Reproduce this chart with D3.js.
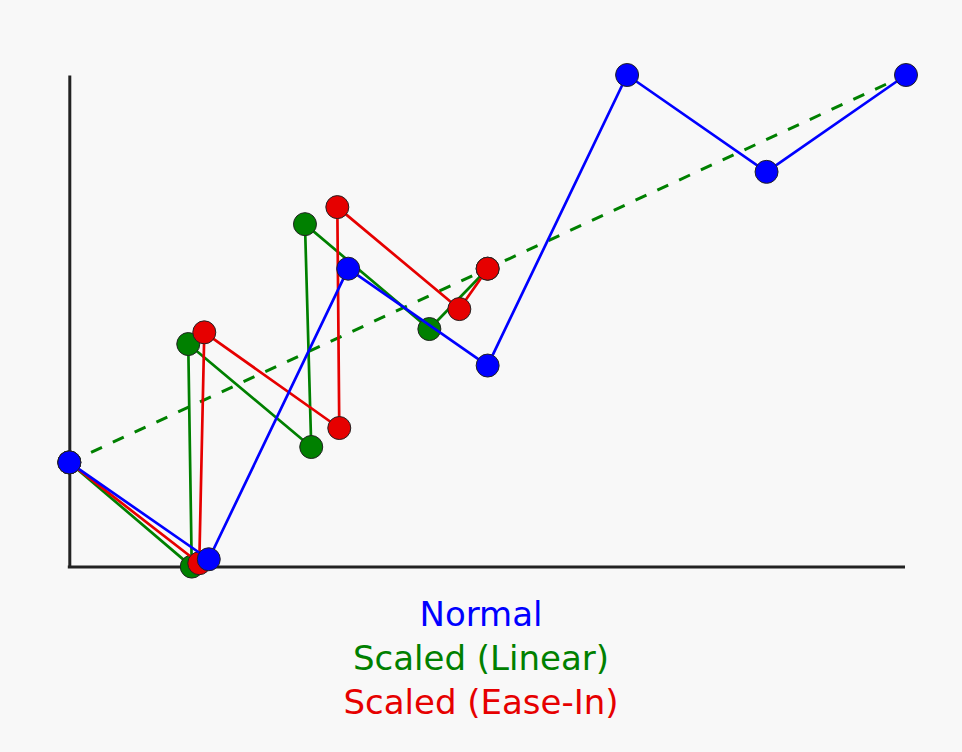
<!DOCTYPE html>
<html>
<head>
<meta charset="utf-8">
<script src="https://cdn.jsdelivr.net/npm/d3@7"></script>
<style>
  html, body { margin: 0; padding: 0; background: #f8f8f8; }
  svg { display: block; }
</style>
</head>
<body>
<svg id="chart" width="962" height="752"></svg>
<script>
// Data
const normalX = [0, 1, 2, 3, 4, 5, 6];
const normalY = [2, 1, 4, 3, 6, 5, 6];
const linearX = [0, 0.878, 0.853, 1.735, 1.690, 2.582, 3.0];
const linearY = [2, 0.924, 3.222, 2.159, 4.460, 3.377, 4.0];
const easeX = [0, 0.932, 0.968, 1.936, 1.922, 2.797, 3.0];
const easeY = [2, 0.959, 3.343, 2.355, 4.636, 3.583, 4.0];
const trendX = [0, 6];
const trendY = [2, 6];
const legendLabels = ["Normal", "Scaled (Linear)", "Scaled (Ease-In)"];
const colors = { normal: "#0000ff", linear: "#008000", ease: "#e60000" };

const svg = d3.select("#chart");
svg.append("rect").attr("width", 962).attr("height", 752).attr("fill", "#f8f8f8");

const x = d3.scaleLinear().domain([0, 6]).range([69.3, 906]);
const y = d3.scaleLinear().domain([0.92, 6]).range([567, 75]);

// axes (domain lines only)
const xAxis = d3.axisBottom(x).ticks(0).tickSizeOuter(0);
const yAxis = d3.axisLeft(y).ticks(0).tickSizeOuter(0);
const xg = svg.append("g").attr("transform", `translate(0,${y(0.92)})`).call(xAxis);
const yg = svg.append("g").attr("transform", `translate(${x(0)},0)`).call(yAxis);
[xg, yg].forEach(g => g.select(".domain").attr("stroke", "#222").attr("stroke-width", 3));
xg.select(".domain").attr("d", `M${x(0) - 1.5},0H${x(6) - 1}`);

const line = d3.line().x(d => x(d[0])).y(d => y(d[1]));
const zip = (xs, ys) => xs.map((v, i) => [v, ys[i]]);

// dashed trend line
svg.append("path")
  .attr("d", line(zip(trendX, trendY)))
  .attr("fill", "none")
  .attr("stroke", colors.linear)
  .attr("stroke-width", 3)
  .attr("stroke-dasharray", "12,12");

function series(xs, ys, color) {
  const pts = zip(xs, ys);
  const g = svg.append("g");
  g.append("path")
    .attr("d", line(pts))
    .attr("fill", "none")
    .attr("stroke", color)
    .attr("stroke-width", 2.7)
    .attr("stroke-linejoin", "round");
  g.selectAll("circle").data(pts).enter().append("circle")
    .attr("cx", d => x(d[0]))
    .attr("cy", d => y(d[1]))
    .attr("r", 11.5)
    .attr("fill", color)
    .attr("stroke", "#222")
    .attr("stroke-width", 1);
}
series(linearX, linearY, colors.linear);
series(easeX, easeY, colors.ease);
series(normalX, normalY, colors.normal);

// legend text
const legColors = [colors.normal, colors.linear, colors.ease];
svg.selectAll("text.leg").data(legendLabels).enter().append("text")
  .attr("class", "leg")
  .attr("x", 481)
  .attr("y", (d, i) => 626 + i * 44)
  .attr("text-anchor", "middle")
  .attr("font-family", "DejaVu Sans")
  .attr("font-size", 34)
  .attr("fill", (d, i) => legColors[i])
  .text(d => d);
</script>
</body>
</html>
